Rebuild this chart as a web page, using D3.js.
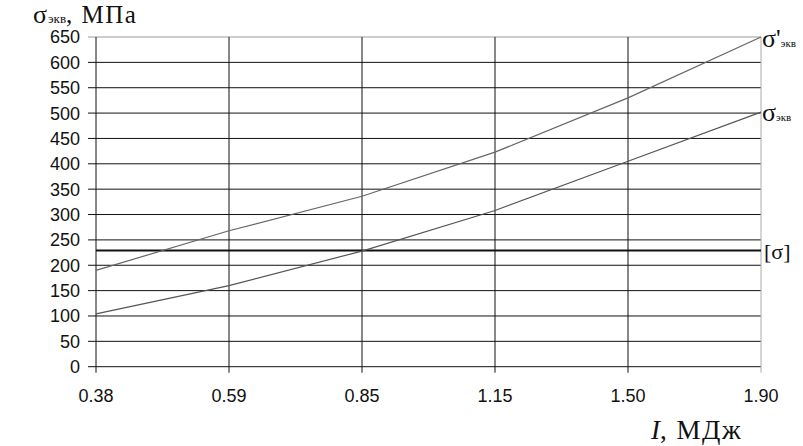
<!DOCTYPE html>
<html><head><meta charset="utf-8">
<script src="https://cdn.jsdelivr.net/npm/d3@7"></script>
<style>body{margin:0;background:#fff}svg{display:block}</style>
</head><body>
<script>
const categories = ["0.38","0.59","0.85","1.15","1.50","1.90"];
const sigmaPrime = [190, 268, 336, 423, 530, 650];
const sigma = [104, 160, 228, 308, 405, 502];
const sigmaAllow = 229;
const yTicks = [0,50,100,150,200,250,300,350,400,450,500,550,600,650];

const W = 803, H = 446;
const m = {left: 96, right: 803-761, top: 37, bottom: 446-366.7};
const svg = d3.select("body").append("svg").attr("width", W).attr("height", H);
const x = d3.scalePoint().domain(categories).range([m.left, W - m.right]).padding(0);
const y = d3.scaleLinear().domain([0, 650]).range([H - m.bottom, m.top]);

// horizontal gridlines
svg.append("g").selectAll("line").data(yTicks).join("line")
  .attr("x1", m.left - 8).attr("x2", W - m.right)
  .attr("y1", d => y(d)).attr("y2", d => y(d))
  .attr("stroke", d => d === 650 ? "#999" : "#111").attr("stroke-width", 1);
// vertical gridlines
svg.append("g").selectAll("line").data(categories).join("line")
  .attr("x1", d => x(d)).attr("x2", d => x(d))
  .attr("y1", y(650)).attr("y2", y(0) + 6)
  .attr("stroke", (d,i) => i === categories.length - 1 ? "#aaa" : "#111").attr("stroke-width", 1);

const sans = "Liberation Sans, Arial, sans-serif";
// y tick labels
svg.append("g").selectAll("text").data(yTicks).join("text")
  .attr("x", 80).attr("y", d => y(d)).attr("dy", "0.36em")
  .attr("text-anchor", "end").attr("font-family", sans)
  .attr("font-size", 18).attr("fill", "#111").text(d => d);
// x tick labels
svg.append("g").selectAll("text").data(categories).join("text")
  .attr("x", d => x(d)).attr("y", 402)
  .attr("text-anchor", "middle").attr("font-family", sans)
  .attr("font-size", 18).attr("fill", "#111").text(d => d);

// allowable stress line
svg.append("line").attr("x1", m.left).attr("x2", W - m.right)
  .attr("y1", y(sigmaAllow)).attr("y2", y(sigmaAllow))
  .attr("stroke", "#111").attr("stroke-width", 2);

const line = d3.line().x((d,i) => x(categories[i])).y(d => y(d));
svg.append("path").datum(sigmaPrime).attr("d", line).attr("fill", "none").attr("stroke", "#666").attr("stroke-width", 1.2);
svg.append("path").datum(sigma).attr("d", line).attr("fill", "none").attr("stroke", "#555").attr("stroke-width", 1.2);

const serif = "Liberation Serif, Times New Roman, serif";
// series labels
function sigLabel(xp, yp, prime) {
  const t = svg.append("text").attr("x", xp).attr("y", yp).attr("font-family", serif).attr("fill", "#111");
  t.append("tspan").attr("font-size", 26).text(prime ? "σ'" : "σ");
  t.append("tspan").attr("font-size", 11).text("экв");
}
sigLabel(762, y(650) + 10, true);
sigLabel(762, y(502) + 9, false);
svg.append("text").attr("x", 764).attr("y", y(sigmaAllow) + 8).attr("font-family", serif)
  .attr("font-size", 22).attr("fill", "#111").text("[σ]");

// title
const tt = svg.append("text").attr("x", 33).attr("y", 23).attr("font-family", serif).attr("fill", "#111");
tt.append("tspan").attr("font-size", 26).attr("letter-spacing", 1).text("σ");
tt.append("tspan").attr("font-size", 13).text("экв");
tt.append("tspan").attr("font-size", 25).attr("letter-spacing", 1.5).text(", МПа");

// x axis title
const xt = svg.append("text").attr("x", 651).attr("y", 439).attr("font-family", serif).attr("font-size", 27).attr("fill", "#111");
xt.append("tspan").attr("font-style", "italic").text("I");
xt.append("tspan").attr("letter-spacing", 1.5).text(", МДж");
</script>
</body></html>
